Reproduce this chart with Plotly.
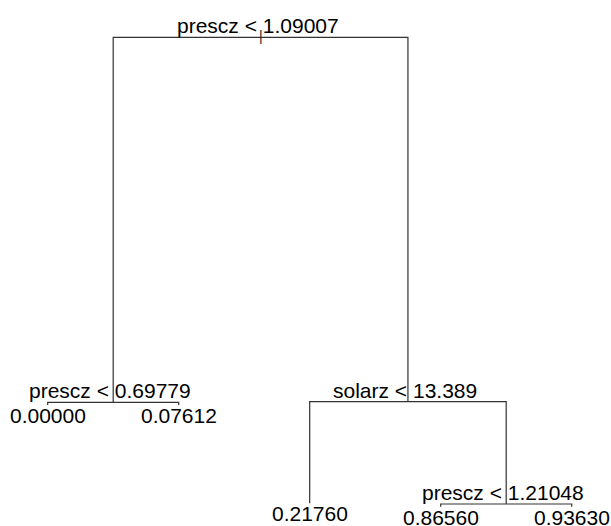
import plotly.graph_objects as go

# Tree content (rpart-style regression tree)
split_labels = ["prescz < 1.09007", "prescz < 0.69779", "solarz < 13.389", "prescz < 1.21048"]
split_dev = [100.0, 22.24, 22.37, 0.58]          # node heights (deviance scale)
leaf_labels = ["0.00000", "0.07612", "0.21760", "0.86560", "0.93630"]
leaf_dev = [21.67, 21.67, 0.72, 0.0, 0.0]
# children of each split: ("s", i) = split i, ("l", j) = leaf j
split_children = [
    (("s", 1), ("s", 2)),
    (("l", 0), ("l", 1)),
    (("l", 2), ("s", 3)),
    (("l", 3), ("l", 4)),
]

# leaf x = order index, split x = midpoint of its children
leaf_x = [i + 1 for i in range(len(leaf_labels))]
split_x = [None] * len(split_labels)


def node_xy(node):
    kind, i = node
    if kind == "l":
        return leaf_x[i], leaf_dev[i]
    if split_x[i] is None:
        a, b = split_children[i]
        split_x[i] = (node_xy(a)[0] + node_xy(b)[0]) / 2
    return split_x[i], split_dev[i]


node_xy(("s", 0))

xs, ys = [], []
for i, (a, b) in enumerate(split_children):
    px, py = split_x[i], split_dev[i]
    ax, ay = node_xy(a)
    bx, by = node_xy(b)
    xs += [ax, ax, bx, bx, None]
    ys += [ay, py, py, by, None]

fig = go.Figure()
fig.add_trace(go.Scatter(x=xs, y=ys, mode="lines",
                         line=dict(color="#333333", width=1.2),
                         hoverinfo="skip", showlegend=False))

font = dict(family="Liberation Sans, Arial, Helvetica, sans-serif", size=21, color="black")
ann = []
for i, lab in enumerate(split_labels):
    ann.append(dict(x=split_x[i], y=split_dev[i], text=lab, showarrow=False,
                    xanchor="center", yanchor="bottom", xshift=-3, yshift=-2, font=font))
for j, lab in enumerate(leaf_labels):
    ann.append(dict(x=leaf_x[j], y=leaf_dev[j], text=lab, showarrow=False,
                    xanchor="center", yanchor="top", yshift=3, font=font))
# root marker "|"
ann.append(dict(x=split_x[0], y=split_dev[0], text="|", showarrow=False,
                xanchor="center", yanchor="middle", yshift=1,
                font=dict(family=font["family"], size=14, color="#222222")))

fig.update_layout(
    width=611, height=526,
    margin=dict(l=0, r=0, t=0, b=0),
    paper_bgcolor="white", plot_bgcolor="white",
    xaxis=dict(range=[0.636, 5.300], visible=False, fixedrange=True),
    yaxis=dict(range=[-4.11, 107.95], visible=False, fixedrange=True),
    annotations=ann,
)
fig.write_html("out.html", config={"displayModeBar": False},
               post_script="document.body.style.margin='0';document.body.style.overflow='hidden';")
